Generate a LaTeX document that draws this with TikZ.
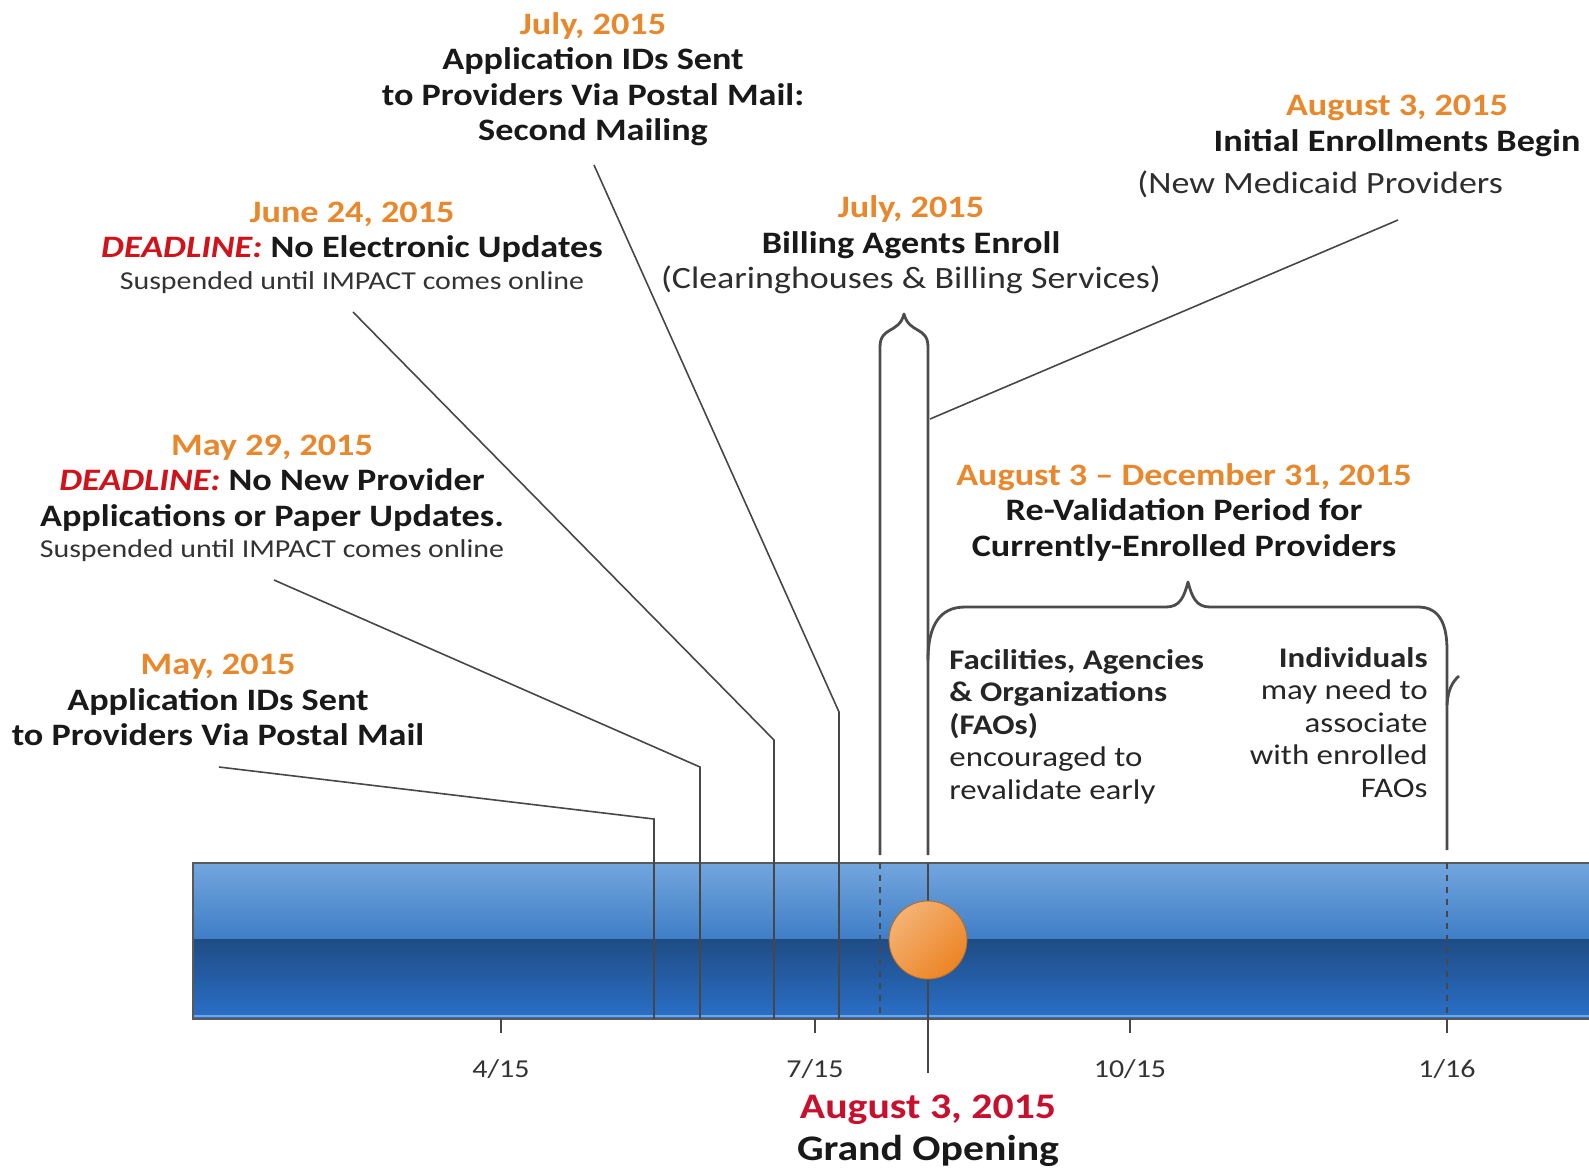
\documentclass[tikz,border=0pt]{standalone}
\usepackage{fontspec}
\setmainfont{Carlito}[FakeStretch=1.16]
\usetikzlibrary{positioning}
\definecolor{dateorange}{HTML}{E8872B}
\definecolor{deadred}{HTML}{D0121B}
\definecolor{openred}{HTML}{C8102E}
\definecolor{barhi}{HTML}{72A6DE}
\definecolor{barmid}{HTML}{3F7EC6}
\definecolor{barlo}{HTML}{1F4C84}
\definecolor{barbot}{HTML}{2A6FC7}
\definecolor{ballhi}{HTML}{F4B274}
\definecolor{ballor}{HTML}{EC8424}
\newcommand{\dlword}{{\color{deadred}\itshape DEADLINE:}}
\tikzset{
  heading/.style={font=\bfseries\fontsize{15.6}{17.75}\selectfont,align=center,inner sep=0pt,text=black!90},
  plainline/.style={font=\fontsize{15.5}{17.75}\selectfont,inner sep=0pt,text=black!82},
  smallnote/.style={font=\fontsize{12.9}{14}\selectfont,inner sep=0pt,text=black!80},
  body/.style={font=\fontsize{14.2}{16.25}\selectfont,inner sep=0pt,text=black!85},
  ticklabel/.style={font=\fontsize{12.9}{13}\selectfont,inner sep=0pt,text=black!80},
  leader/.style={draw=black!72,line width=0.8pt},
  bracket/.style={draw=black!70,line width=1.4pt,line join=round},
  goball/.style={circle,minimum size=39pt,inner sep=0pt,draw=ballor!80!black,line width=0.4pt,
    top color=ballhi,bottom color=ballor,shading angle=45},
}
\begin{document}
\begin{tikzpicture}[x=0.5pt,y=-0.5pt]
\useasboundingbox (0,0) rectangle (1589,1169);
\shade[top color=barhi,bottom color=barmid] (193,863) rectangle (1589,939);
\shade[top color=barlo,bottom color=barbot] (193,939) rectangle (1589,1017);
\draw[barhi,line width=0.8pt] (193,1016) -- (1589,1016);
\draw[black!65,line width=0.9pt] (1589,863) -- (193,863) -- (193,1019) -- (1589,1019);
\foreach \x/\m/\yr in {501/4/15,815/7/15,1130/10/15,1447/1/16}
  \draw[leader] (\x,1019) -- (\x,1033) node[ticklabel] (tick\m) at (\x,1069) {\m/\yr};

\node[heading] (jul15b) at (593,79) {{\color{dateorange}July, 2015}\\Application IDs Sent\\to Providers Via Postal Mail:\\Second Mailing};
\node[heading] (jun24) at (352,232) {{\color{dateorange}June 24, 2015}\\\dlword{} No Electronic Updates};
\node[smallnote] (jun24n) at (352,283) {Suspended until IMPACT comes online};
\node[heading] (may29) at (272,483) {{\color{dateorange}May 29, 2015}\\\dlword{} No New Provider\\Applications or Paper Updates.};
\node[smallnote] (may29n) at (272,551) {Suspended until IMPACT comes online};
\node[heading] (may15) at (218,700) {{\color{dateorange}May, 2015}\\Application IDs Sent\\to Providers Via Postal Mail};
\node[heading] (aug3i) at (1397,126) {{\color{dateorange}August 3, 2015}\\Initial Enrollments Begin};
\node[plainline,anchor=west] (aug3n) at (1137,184) {(New Medicaid Providers};
\node[heading] (billing) at (911,227) {{\color{dateorange}July, 2015}\\Billing Agents Enroll};
\node[plainline] (billingn) at (911,280) {(Clearinghouses \& Billing Services)};
\node[heading] (reval) at (1184,512) {{\color{dateorange}August 3 – December 31, 2015}\\Re-Validation Period for\\Currently-Enrolled Providers};
\node[body,anchor=north west,align=left] (fao) at (949,649) {\textbf{Facilities, Agencies}\\\textbf{\& Organizations}\\\textbf{(FAOs)}\\encouraged to\\revalidate early};
\node[body,anchor=north east,align=right] (indiv) at (1428,647) {\textbf{Individuals}\\may need to\\associate\\with enrolled\\FAOs};
\node[font=\bfseries\fontsize{18}{21}\selectfont,align=center,inner sep=0pt,text=black!90] (opening) at (928,1131) {{\color{openred}August 3, 2015}\\Grand Opening};

\coordinate (m15a) at (219,767);
\coordinate (m15b) at (654,819);
\coordinate (m15c) at (654,1019);
\coordinate (m29a) at (274,580);
\coordinate (m29b) at (700,767);
\coordinate (m29c) at (700,1019);
\coordinate (j24a) at (353,312);
\coordinate (j24b) at (774,740);
\coordinate (j24c) at (774,1019);
\coordinate (j15a) at (594,165);
\coordinate (j15b) at (839,712);
\coordinate (j15c) at (839,1019);
\coordinate (enra) at (1398,220);
\coordinate (enrb) at (930,419);
\draw[leader] (m15a) -- (m15b) -- (m15c);
\draw[leader] (m29a) -- (m29b) -- (m29c);
\draw[leader] (j24a) -- (j24b) -- (j24c);
\draw[leader] (j15a) -- (j15b) -- (j15c);
\draw[leader] (enra) -- (enrb);

\draw[bracket] (880,855) -- (880,347) .. controls (880,326) and (899,334) .. (904,314)
  .. controls (909,334) and (928,326) .. (928,347) -- (928,855);
\draw[leader,dashed] (880,863) -- (880,1019);
\draw[leader] (928,863) -- (928,1073);
\draw[bracket] (928,660) .. controls (928,625) and (940,607) .. (965,607) -- (1166,607)
  .. controls (1180,607) and (1184,597) .. (1188,582) .. controls (1192,597) and (1196,607) .. (1210,607)
  -- (1418,607) .. controls (1440,607) and (1447,625) .. (1447,650) -- (1447,850);
\draw[bracket] (1447,705) .. controls (1448,690) and (1452,682) .. (1459,676);
\draw[leader,dashed] (1447,863) -- (1447,1019);
\node[goball] (grand) at (928,940) {};
\end{tikzpicture}
\end{document}
